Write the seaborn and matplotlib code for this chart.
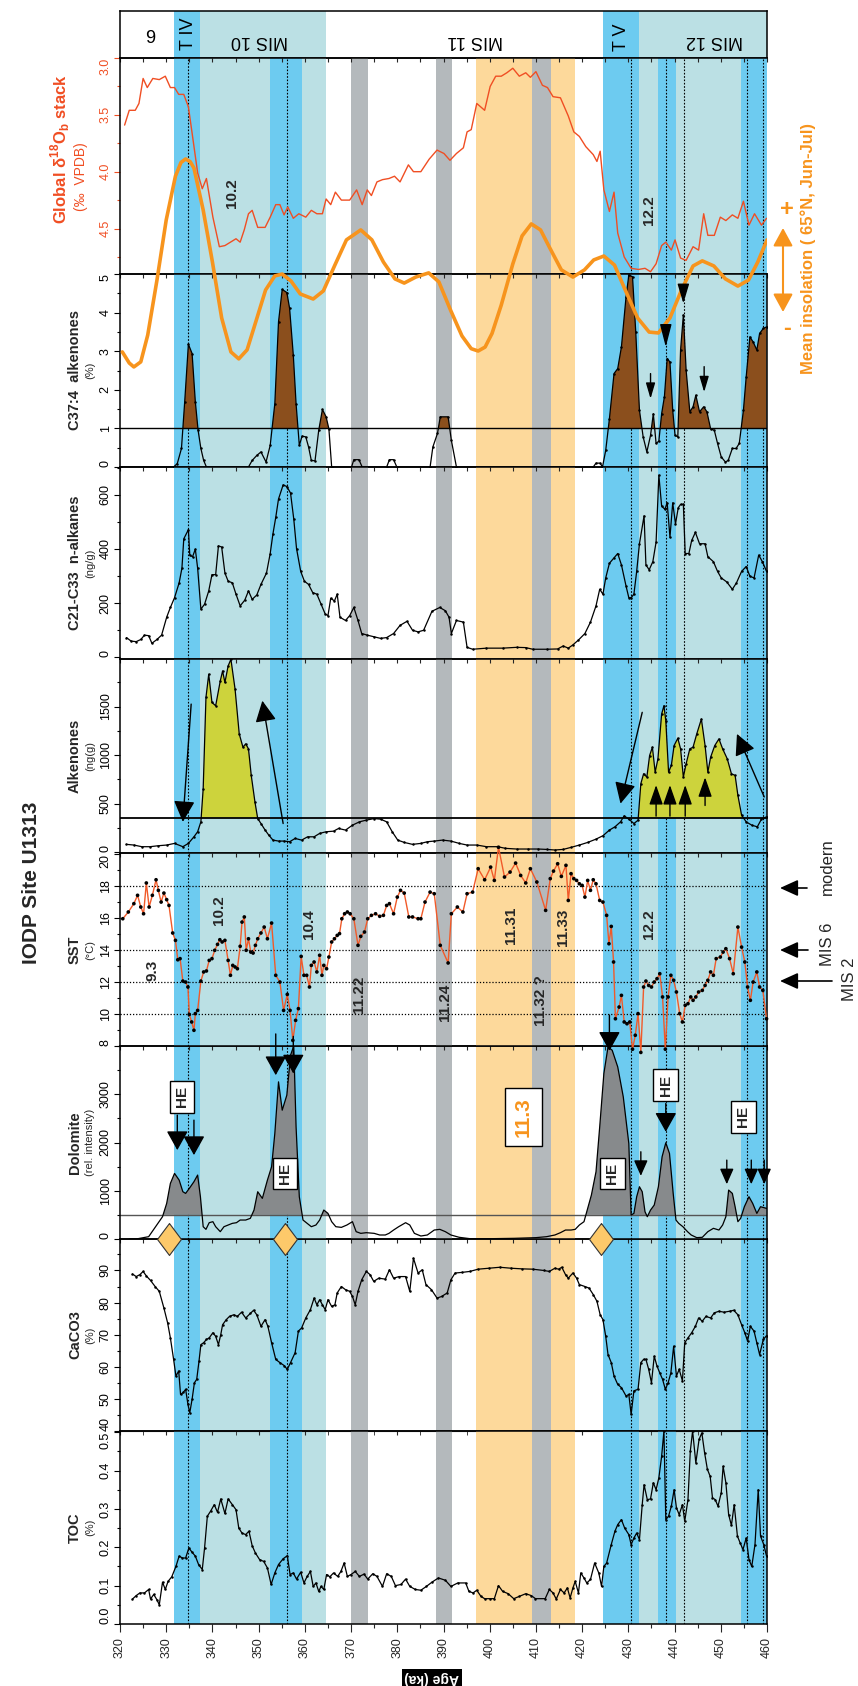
import numpy as np
import pandas as pd
import matplotlib
matplotlib.use("Agg")
import matplotlib.pyplot as plt
import seaborn as sns
from matplotlib.ticker import MultipleLocator, FormatStrFormatter

sns.set_style("white")
plt.rcParams['font.family'] = ['Liberation Sans', 'DejaVu Sans']
plt.rcParams['mathtext.fontset'] = 'custom'
plt.rcParams['mathtext.rm'] = 'Liberation Sans'
plt.rcParams['mathtext.bf'] = 'Liberation Sans:bold'

# ---------------- data (age in ka) ----------------
light_blue = [(337.4, 364.5), (432.4, 461)]
dark_blue = [(331.6, 337.4), (352.4, 359.3), (424.5, 432.4), (436.5, 440.3), (454.3, 461)]
orange_band = [(397.1, 418.5)]
grey_bands = [(370.0, 373.6), (388.3, 391.8), (409.1, 413.2)]
strip_light = [(333.0, 364.5), (432.4, 461)]
strip_dark = [(331.6, 337.4), (424.5, 432.4)]
dotted_ages = [334.8, 356.2, 430.6, 438.1, 442.1, 455.6, 459.2]

d18o = [(321, 3.59), (322, 3.46), (323.3, 3.46), (324.1, 3.40), (325, 3.18), (325.9, 3.26), (327.1, 3.18),
        (328.5, 3.19), (329.8, 3.16), (330.9, 3.26), (331.8, 3.26), (332.7, 3.32), (333.8, 3.32), (334.8, 3.43),
        (335.6, 3.66), (336.8, 4.01), (337.8, 4.15), (338.7, 4.06), (340.1, 4.40), (341.5, 4.66), (342.7, 4.65),
        (343.9, 4.62), (345.1, 4.59), (346, 4.62), (346.9, 4.51), (347.8, 4.37), (348.6, 4.34), (349.8, 4.49),
        (351.4, 4.49), (352.5, 4.40), (353.7, 4.29), (354.6, 4.29), (355.5, 4.38), (356.3, 4.31), (357.5, 4.41),
        (358.7, 4.37), (360.2, 4.40), (361.4, 4.34), (362.6, 4.37), (363.8, 4.37), (364.6, 4.24), (365.6, 4.29),
        (366.6, 4.18), (367.9, 4.25), (369.7, 4.25), (371.2, 4.16), (372.4, 4.29), (373.5, 4.16), (374.4, 4.21),
        (375.6, 4.09), (376.8, 4.07), (378.2, 4.06), (379.4, 4.04), (380.6, 4.09), (382.4, 3.94), (383.5, 4.00),
        (385.1, 4.00), (386.9, 3.89), (388.6, 3.81), (390.1, 3.84), (391.4, 3.90), (392.8, 3.84), (394.3, 3.79),
        (395.1, 3.65), (396, 3.63), (397.2, 3.40), (398.9, 3.46), (400.1, 3.25), (401.3, 3.16), (402.5, 3.16),
        (403.7, 3.13), (405, 3.09), (406.4, 3.16), (407.8, 3.13), (408.8, 3.17), (410, 3.12), (411.4, 3.24),
        (412.5, 3.26), (413.7, 3.34), (415.3, 3.35), (417, 3.51), (418.2, 3.65), (419.4, 3.69), (420.8, 3.78),
        (422.4, 3.85), (423.2, 3.91), (423.9, 3.82), (424.7, 4.16), (425.9, 4.35), (426.9, 4.18), (427.7, 4.54),
        (429.1, 4.75), (430.6, 4.85), (432.2, 4.86), (433.6, 4.85), (434.8, 4.88), (436, 4.81), (437.2, 4.65),
        (438.1, 4.62), (439.3, 4.69), (440.1, 4.60), (441.3, 4.76), (442.5, 4.78), (444, 4.66), (445.2, 4.69),
        (446.3, 4.37), (447.2, 4.56), (448.6, 4.56), (449.9, 4.40), (451.1, 4.43), (452.5, 4.38), (453.7, 4.41),
        (454.9, 4.26), (456.1, 4.47), (457.3, 4.37), (458.8, 4.47), (459.9, 4.41)]

insolation = [(320.5, 441.5), (322, 436.7), (323, 435.0), (324.5, 437.2), (326, 448.8), (328, 472.6), (330, 498.6),
              (332, 517.6), (333.2, 523.5), (334.2, 525.0), (335.2, 523.8), (336, 521.1), (338, 502.9),
              (340, 480.4), (342, 456.2), (344, 441.5), (345.7, 438.5), (347.5, 442.4), (349.5, 455.3),
              (351.5, 468.3), (353.5, 474.4), (355.1, 475.2), (357, 472.2), (359, 466.6), (361.8, 464.4),
              (364, 467.9), (366.5, 479.1), (369, 490.0), (372.1, 494.3), (374.5, 490.0), (377, 480.4),
              (379.5, 473.1), (381.5, 471.3), (384, 473.9), (386.8, 475.7), (389, 471.8), (391.5, 459.7),
              (394, 448.4), (396, 442.9), (397.5, 441.9), (399, 443.6), (400.5, 449.5), (402.5, 461.8),
              (405, 479.6), (407, 491.7), (409, 496.9), (411, 494.3), (413, 486.5), (415.5, 477.0), (418, 473.9),
              (420.5, 477.0), (422.5, 481.3), (424.7, 483.0), (427, 479.1), (429.5, 467.5), (432, 456.2),
              (434.5, 450.1), (436.5, 449.7), (439, 456.2), (441.5, 468.3), (444, 478.7), (446, 480.9),
              (448.5, 478.7), (451, 473.1), (453.7, 470.0), (456, 472.6), (458, 480.4), (460, 490.0)]

c37 = [(320.2, 0), (331.6, 0), (332.4, 0.09), (333.3, 0.48), (334.0, 1.69), (334.8, 3.18), (335.6, 2.94),
       (336.3, 1.69), (336.9, 0.95), (337.5, 0.48), (338.1, 0.17), (338.7, 0), (347.8, 0), (348.6, 0.17),
       (349.6, 0.30), (350.5, 0.39), (351.6, 0.13), (352.5, 0.56), (353.5, 1.64), (354.3, 3.76), (355.1, 4.60),
       (356.1, 4.52), (356.7, 4.11), (357.5, 2.90), (358.1, 1.64), (358.8, 0.56), (359.4, 0.80), (360.2, 0.78),
       (360.8, 0.52), (361.4, 0.17), (362.2, 0.16), (363.0, 0.95), (363.8, 1.49), (364.6, 1.30), (365.2, 0.99),
       (365.8, 0), (370.1, 0), (370.6, 0.19), (371.7, 0.19), (372.4, 0), (377.7, 0), (378.3, 0.19), (379.2, 0.19),
       (379.9, 0), (387.1, 0), (387.7, 0.52), (388.7, 0.87), (389.3, 1.30), (391.0, 1.30), (391.7, 0.69),
       (392.8, 0), (422.4, 0), (423.0, 0.10), (423.9, 0.10), (424.4, 0), (425.1, 0.43), (425.9, 1.25),
       (426.9, 2.42), (427.7, 2.55), (428.5, 3.11), (429.5, 4.41), (430.1, 4.97), (430.9, 4.93), (431.6, 3.50),
       (432.4, 1.47), (433.2, 0.78), (434.0, 0.39), (434.8, 0.82), (435.4, 1.38), (436.0, 0.61), (436.6, 0.67),
       (437.2, 1.38), (437.8, 1.82), (438.4, 2.81), (439.0, 2.72), (439.6, 1.47), (440.1, 0.82), (440.7, 0.78),
       (441.3, 3.03), (441.9, 3.94), (442.5, 2.51), (443.3, 1.43), (444.0, 1.56), (444.6, 1.86), (445.4, 1.43),
       (446.3, 1.56), (447.0, 1.43), (447.8, 0.99), (448.6, 0.95), (449.3, 0.61), (450.1, 0.26), (451.0, 0.13),
       (451.6, 0.17), (452.5, 0.48), (453.3, 0.48), (454.0, 0.61), (454.9, 1.47), (455.5, 2.34), (456.3, 3.37),
       (457.0, 3.24), (457.8, 3.03), (458.4, 3.46), (459.2, 3.59), (459.9, 3.63)]

nalk = [(321.4, 73), (322.4, 60), (323.5, 58), (324.5, 66), (325.3, 82), (326.2, 80), (326.9, 52), (328, 66),
        (329, 82), (330.1, 148), (330.9, 184), (331.8, 220), (332.8, 275), (333.4, 329), (333.8, 437), (334.8, 471),
        (335.1, 377), (335.7, 371), (336.3, 399), (336.8, 329), (337.5, 178), (338.3, 196), (339.2, 245),
        (339.9, 305), (340.7, 305), (341.3, 411), (342, 407), (342.7, 311), (343.4, 281), (344.3, 275),
        (345.1, 233), (346, 190), (347, 211), (347.8, 245), (348.6, 214), (349.6, 230), (350.5, 269), (351.7, 311),
        (352.5, 383), (353.1, 456), (353.7, 516), (354.3, 584), (355.3, 636), (356.1, 630), (356.9, 606),
        (357.6, 510), (358.2, 401), (359.1, 317), (359.9, 281), (360.8, 269), (361.7, 239), (362.6, 233),
        (363.5, 196), (364.4, 160), (365, 154), (365.6, 218), (366.4, 208), (367, 233), (367.6, 148), (368.8, 136),
        (369.7, 154), (370.6, 184), (371.5, 136), (372.3, 88), (373.5, 82), (375, 76), (376.4, 70), (377.7, 73),
        (379.2, 88), (380.6, 118), (382.1, 133), (383.3, 100), (384.5, 94), (385.7, 100), (387.5, 170),
        (389.2, 184), (390.4, 172), (391.2, 148), (391.7, 88), (392.8, 136), (394.3, 130), (395.1, 37),
        (396.3, 30), (399.3, 34), (402.8, 34), (405.8, 37), (407.8, 36), (409.3, 30), (412.3, 30), (414.7, 31),
        (415.9, 42), (417, 34), (418, 46), (419.2, 64), (420.6, 88), (421.8, 130), (423, 190), (423.8, 251),
        (424.5, 233), (425.1, 293), (425.9, 347), (426.8, 365), (427.7, 383), (428.5, 341), (429.5, 263),
        (430.1, 220), (430.6, 220), (431.2, 233), (431.8, 317), (432.4, 419), (433.4, 522), (433.8, 341),
        (434.5, 323), (435.3, 353), (436, 425), (436.6, 672), (437.2, 558), (437.9, 546), (438.4, 570),
        (439, 443), (439.6, 570), (440.2, 492), (440.8, 552), (441.3, 564), (441.9, 564), (442.3, 383),
        (443.1, 383), (443.7, 431), (444.5, 461), (445.4, 419), (446.6, 419), (447.2, 371), (448.4, 353),
        (449.3, 317), (450.1, 293), (451.3, 278), (452.5, 251), (453.4, 275), (454.5, 317), (455.5, 335),
        (456.3, 299), (457.2, 293), (458.2, 377), (459, 353), (459.9, 317)]

alken = [(321.4, 79), (323, 72), (324.7, 55), (326.5, 55), (328.3, 65), (330.1, 72), (331.8, 89), (333.6, 55),
         (334.8, 89), (336, 157), (336.8, 209), (337.5, 311), (338, 653), (338.6, 1594), (339.2, 1833),
         (339.9, 1542), (340.7, 1508), (341.7, 1765), (342.2, 1867), (342.7, 1748), (343.4, 1919), (344, 1987),
         (344.9, 1679), (345.8, 1218), (346.6, 1081), (347.2, 1115), (347.8, 1064), (348.4, 790), (349.2, 516),
         (349.8, 345), (350.5, 294), (351.4, 226), (352.2, 174), (353.1, 123), (354.3, 113), (355.5, 113),
         (356.7, 106), (357.9, 140), (359.3, 123), (360.6, 157), (362, 157), (363.2, 192), (364.6, 209),
         (366.2, 215), (367.3, 243), (368.8, 226), (370.3, 277), (371.8, 311), (373.2, 328), (375, 345),
         (376.4, 339), (377.7, 311), (378.9, 209), (380.1, 123), (381.5, 99), (383.3, 79), (385.1, 89),
         (386.5, 106), (388, 113), (389.8, 123), (391.6, 113), (393.4, 89), (395.1, 72), (397.2, 72), (399.3, 55),
         (401.7, 55), (403.4, 38), (405.8, 31), (408.2, 31), (410.5, 31), (412.3, 27), (414.1, 21), (415.9, 27),
         (417.6, 48), (419.4, 72), (421.2, 99), (423, 133), (424.5, 168), (425.9, 226), (427.1, 260),
         (428.3, 311), (429.1, 373), (430.1, 339), (431.2, 294), (432.1, 328), (432.7, 705), (433.3, 807),
         (434, 773), (434.6, 995), (435.2, 1081), (435.8, 824), (436.4, 961), (437.2, 1423), (437.7, 1508),
         (438.1, 1354), (438.7, 824), (439.3, 893), (439.9, 1098), (440.7, 1173), (441.3, 1064), (441.9, 773),
         (442.5, 910), (443.3, 1064), (444, 1081), (444.8, 1218), (445.8, 1371), (446.6, 1098), (447.2, 824),
         (447.8, 978), (448.7, 1098), (449.6, 1166), (450.4, 1064), (451.4, 961), (452.3, 807), (453.1, 790),
         (453.7, 585), (454.5, 380), (455.5, 311), (456.7, 277), (457.9, 260), (458.8, 339), (459.9, 363)]

sst = [(320.6, 15.94), (321.8, 16.36), (323, 16.88), (323.8, 17.40), (324.5, 16.67), (325.1, 16.25), (325.7, 18.17),
       (326.3, 16.67), (327, 17.40), (327.8, 18.37), (328.3, 17.71), (328.9, 16.98), (329.5, 17.54), (330.1, 17.13),
       (330.6, 16.77), (331.4, 15.05), (332, 14.59), (332.5, 13.38), (333, 13.45), (333.6, 12.05), (334.2, 11.99),
       (334.7, 11.68), (335, 9.97), (335.5, 9.50), (336, 8.98), (336.3, 10.02), (336.8, 10.22), (337.5, 12.05),
       (338.1, 12.62), (338.7, 12.68), (339.3, 13.34), (339.9, 13.45), (340.5, 13.97), (341.1, 14.34),
       (341.6, 14.63), (342.1, 14.49), (342.7, 14.59), (343.4, 13.34), (343.9, 12.41), (344.4, 13.03),
       (344.9, 12.93), (345.4, 12.82), (346, 14.22), (346.4, 15.73), (346.9, 16.05), (347.3, 13.97),
       (347.8, 14.69), (348.3, 13.86), (348.8, 13.80), (349.3, 14.28), (349.8, 14.69), (350.5, 15.05),
       (351.2, 15.42), (351.9, 14.69), (352.8, 15.67), (353.7, 12.41), (354.6, 11.99), (355.4, 10.22),
       (356.2, 11.22), (356.8, 10.22), (357.4, 8.35), (358, 9.60), (358.6, 10.33), (359.2, 13.59), (359.8, 12.41),
       (360.4, 12.41), (361, 11.68), (361.4, 13.03), (362, 13.24), (362.6, 12.62), (363.2, 13.66), (363.7, 12.41),
       (364.1, 13.03), (364.7, 12.82), (365.2, 13.55), (365.8, 14.49), (366.4, 14.69), (367, 14.90),
       (367.5, 15.01), (368, 15.94), (368.6, 16.25), (369.2, 16.36), (369.8, 16.25), (370.6, 15.94),
       (371.5, 14.28), (372.1, 14.84), (372.9, 15.11), (373.6, 15.94), (374.4, 16.15), (375.3, 16.25),
       (376.2, 16.09), (377, 16.15), (377.7, 16.77), (378.3, 16.88), (379.2, 16.25), (380, 17.29), (380.7, 17.71),
       (381.5, 17.54), (382.5, 16.05), (383.3, 16.05), (384.5, 15.94), (385.1, 15.94), (386, 16.98),
       (387.1, 17.60), (388, 17.50), (389.3, 14.28), (391, 13.18), (391.7, 16.25), (393, 16.67), (394.2, 16.36),
       (395.1, 17.50), (396.3, 17.60), (397.5, 19.06), (398.9, 18.37), (400.2, 19.16), (401, 18.33),
       (401.9, 20.40), (403.2, 18.54), (404.4, 18.85), (405.6, 19.41), (406.7, 18.64), (407.8, 18.17),
       (408.8, 19.06), (410.2, 18.23), (412.1, 16.46), (413.1, 18.44), (413.8, 18.91), (414.7, 19.37),
       (415.5, 18.58), (416.5, 19.27), (417, 17.08), (417.6, 18.75), (418.2, 18.44), (418.8, 18.33),
       (419.4, 18.12), (420, 18.02), (420.6, 17.29), (421.2, 18.33), (421.8, 17.71), (422.4, 18.37),
       (423, 18.12), (423.8, 17.08), (424.5, 16.98), (425.3, 16.15), (425.8, 14.38), (426.3, 15.46),
       (426.8, 13.24), (427.2, 9.70), (428, 10.43), (428.5, 11.16), (429.1, 9.50), (429.7, 9.39), (430.3, 9.50),
       (430.9, 7.80), (431.5, 8.67), (432.1, 10.02), (432.7, 7.60), (433.3, 11.68), (433.8, 12.05),
       (434.4, 11.78), (435, 11.68), (435.6, 11.99), (436.2, 12.20), (436.8, 12.51), (437.4, 11.06), (438, 7.80),
       (438.6, 11.06), (439.2, 12.41), (439.8, 12.10), (440.4, 11.37), (441.1, 10.02), (441.7, 9.50),
       (442.3, 10.54), (442.9, 10.64), (443.5, 11.06), (444, 10.85), (444.6, 11.06), (445.2, 11.37),
       (446, 11.47), (446.6, 11.78), (447.2, 12.10), (447.8, 12.62), (448.4, 12.41), (449, 13.45), (449.9, 13.55),
       (450.5, 13.86), (451.1, 14.07), (451.9, 13.45), (452.7, 12.51), (453.7, 15.42), (454.5, 14.17),
       (455.2, 13.24), (455.8, 11.68), (456.4, 10.85), (457, 11.99), (457.8, 12.62), (458.4, 11.68),
       (459.1, 11.47), (459.9, 9.70)]

dolo = [(322, 0), (323.5, 0), (326.2, 48), (327.7, 255), (329.2, 462), (330.1, 738), (330.9, 1152), (331.8, 1359),
        (332.8, 1221), (333.6, 980), (334.2, 945), (335, 1049), (336, 1187), (336.8, 1325), (337.4, 876),
        (338, 255), (338.6, 200), (339.3, 338), (340.1, 359), (340.7, 255), (341.7, 152), (342.5, 255),
        (343.4, 290), (344.3, 324), (345.2, 338), (346, 393), (347.2, 393), (348.2, 428), (349, 600), (349.8, 980),
        (350.8, 842), (351.9, 1221), (352.8, 1497), (353.5, 2187), (354.3, 3257), (355.1, 2670), (356.1, 2981),
        (356.9, 3809), (357.6, 4000), (358.1, 2325), (358.8, 876), (359.6, 393), (360.5, 324), (361.4, 255),
        (362.4, 290), (363.2, 393), (364.1, 600), (365, 531), (365.8, 359), (366.7, 255), (367.9, 241),
        (369.1, 290), (370.3, 359), (371.1, 152), (372.1, 117), (373.3, 131), (375, 117), (376.2, 83), (377.4, 83),
        (378.2, 117), (379.2, 186), (380.3, 255), (381.8, 338), (382.7, 290), (383.7, 117), (385.1, 62),
        (386.5, 83), (388, 186), (389.2, 200), (390.4, 152), (391.6, 83), (393.4, 35), (395.7, 7), (400.5, 7),
        (405.3, 14), (410, 28), (412.3, 48), (414.1, 83), (415.3, 131), (416.4, 186), (417.6, 186), (418.5, 200),
        (419.4, 290), (420.4, 359), (421.2, 635), (422, 911), (423, 1394), (423.8, 2325), (424.7, 3429),
        (425.6, 3981), (426.5, 3912), (427.7, 3567), (428.9, 2946), (430.1, 1980), (430.6, 497), (431.2, 531),
        (431.8, 876), (432.4, 1083), (433, 980), (433.6, 566), (434.1, 462), (434.8, 600), (435.6, 704),
        (436.5, 1083), (437.3, 1704), (438.1, 1994), (438.9, 1773), (439.7, 945), (440.3, 393), (440.9, 324),
        (441.8, 255), (442.8, 152), (443.6, 83), (444.8, 28), (446, 35), (447.2, 152), (448.4, 221), (449.6, 186),
        (450.4, 290), (451.1, 462), (451.7, 1014), (452.5, 945), (453.1, 669), (453.7, 359), (454.3, 428),
        (455.1, 669), (456.1, 876), (456.9, 738), (457.8, 531), (458.6, 669), (459.9, 635)]

caco3 = [(322.7, 88.9), (323.5, 88.1), (324.3, 88.7), (325, 89.7), (325.7, 88.3), (326.6, 86.9), (327.6, 85.0),
         (328.5, 83.5), (329.5, 78.3), (330.3, 73.7), (330.9, 69.0), (331.6, 62.3), (332.1, 57.1), (332.7, 58.7),
         (333.1, 51.4), (333.7, 52.0), (334.2, 53.0), (334.7, 48.3), (335.1, 45.7), (335.6, 49.9), (336.1, 55.0),
         (336.6, 56.1), (337.1, 61.8), (337.5, 66.9), (338.1, 67.5), (338.7, 68.5), (339.3, 69.0), (340.1, 70.6),
         (340.7, 69.5), (341.3, 66.9), (341.8, 70.0), (342.2, 73.1), (343, 74.7), (343.7, 75.7), (344.6, 76.2),
         (345.4, 75.7), (346.3, 77.0), (347.2, 75.2), (348.2, 76.6), (348.9, 77.6), (349.6, 76.2), (350.5, 72.6),
         (351.4, 74.7), (352, 72.6), (352.8, 67.5), (353.7, 62.3), (354.6, 61.3), (355.5, 60.4), (356.2, 59.2),
         (356.9, 61.3), (357.9, 64.4), (358.6, 71.1), (359.3, 72.1), (360.2, 75.2), (361.2, 77.8), (362, 81.4),
         (362.6, 79.3), (363.2, 80.9), (363.8, 79.3), (364.4, 77.8), (365, 80.9), (365.8, 78.8), (366.5, 79.3),
         (367, 83.0), (367.9, 85.0), (368.8, 84.0), (369.7, 83.5), (370.3, 81.9), (370.9, 79.3), (371.5, 83.5),
         (372.3, 87.1), (373.3, 89.7), (374.1, 88.7), (374.9, 86.6), (376, 87.6), (377.4, 87.3), (378.3, 90.2),
         (379.2, 87.6), (380.4, 88.1), (381.8, 88.1), (382.7, 83.5), (383.5, 93.8), (384.5, 89.2), (385.4, 90.2),
         (386.2, 85.6), (387.4, 84.0), (388.6, 81.4), (389.6, 81.9), (390.8, 83.0), (391.6, 87.1), (392.5, 89.2),
         (394, 89.4), (395.7, 89.7), (397.5, 90.4), (399.9, 90.7), (402.2, 91.0), (404.6, 90.7), (407, 90.5),
         (409.3, 90.4), (411.7, 90.0), (412.9, 89.7), (414.1, 90.7), (414.9, 90.4), (415.6, 91.0), (416.4, 88.7),
         (417, 87.6), (418, 89.2), (418.8, 87.6), (419.4, 85.6), (420.6, 85.0), (421.5, 84.5), (422.4, 82.5),
         (423.2, 80.4), (423.9, 76.2), (424.5, 74.7), (425.1, 69.5), (425.6, 63.8), (426.3, 61.3), (426.9, 57.1),
         (427.7, 54.5), (428.5, 53.5), (429.5, 50.9), (430.1, 51.4), (430.6, 45.2), (431.2, 52.5), (432.1, 53.0),
         (432.7, 61.3), (433.3, 62.3), (433.8, 62.3), (434.4, 59.2), (435, 55.0), (435.6, 63.3), (436.2, 60.2),
         (436.8, 58.1), (437.4, 56.1), (438, 53.0), (438.6, 55.0), (439.2, 58.1), (439.8, 66.4), (440.4, 57.1),
         (441, 59.2), (441.7, 55.6), (442.2, 67.5), (442.9, 69.0), (443.7, 70.6), (444.5, 72.6), (445.2, 75.2),
         (446, 74.2), (446.8, 75.7), (447.8, 75.2), (448.6, 76.8), (449.6, 77.3), (450.7, 77.0), (451.9, 77.3),
         (452.8, 77.6), (453.7, 76.2), (454.5, 73.1), (455.2, 70.6), (455.8, 68.0), (456.4, 72.6), (457.2, 71.1),
         (457.8, 67.5), (458.4, 63.8), (459.2, 68.5), (459.9, 69.7)]

toc = [(322.7, 0.065), (323.5, 0.074), (324.3, 0.081), (325.3, 0.081), (326.2, 0.090), (326.6, 0.065),
       (327.3, 0.077), (328, 0.063), (328.5, 0.050), (329.2, 0.109), (329.8, 0.090), (330.4, 0.111),
       (331.2, 0.123), (332.1, 0.150), (332.8, 0.177), (333.5, 0.172), (334.2, 0.172), (334.9, 0.198),
       (335.6, 0.187), (336.3, 0.177), (337, 0.155), (337.8, 0.142), (338.3, 0.198), (338.9, 0.281),
       (339.6, 0.294), (340.4, 0.311), (341.1, 0.291), (341.8, 0.326), (342.7, 0.288), (343.4, 0.326),
       (344.3, 0.311), (345.1, 0.298), (345.7, 0.250), (346.4, 0.237), (347.2, 0.233), (347.9, 0.242),
       (348.6, 0.204), (349.3, 0.185), (350.2, 0.168), (351.1, 0.163), (351.9, 0.146), (352.7, 0.103),
       (353.5, 0.133), (354.3, 0.155), (355.3, 0.170), (356.2, 0.178), (356.8, 0.129), (357.5, 0.133),
       (358.2, 0.117), (359.1, 0.135), (359.8, 0.107), (360.5, 0.124), (361.2, 0.137), (361.8, 0.098),
       (362.4, 0.107), (363, 0.085), (363.5, 0.098), (364.1, 0.090), (364.7, 0.129), (365.4, 0.123),
       (366.2, 0.133), (367.1, 0.124), (367.8, 0.137), (368.5, 0.159), (369.2, 0.124), (370, 0.129),
       (370.9, 0.137), (371.8, 0.124), (372.8, 0.130), (373.6, 0.117), (374.7, 0.131), (375.6, 0.124),
       (376.8, 0.098), (377.7, 0.131), (378.7, 0.124), (379.6, 0.100), (380.8, 0.103), (381.8, 0.117),
       (382.7, 0.098), (383.9, 0.090), (385.1, 0.088), (386.3, 0.098), (387.5, 0.109), (388.9, 0.120),
       (390.4, 0.114), (391.6, 0.098), (393.1, 0.107), (394.8, 0.107), (395.5, 0.085), (396.4, 0.081),
       (397.2, 0.088), (398.1, 0.072), (398.9, 0.066), (400.1, 0.066), (401, 0.066), (401.9, 0.100),
       (402.8, 0.085), (404, 0.079), (405.2, 0.066), (406.4, 0.072), (407.8, 0.079), (409, 0.074),
       (409.9, 0.066), (412, 0.066), (412.9, 0.090), (413.7, 0.081), (414.4, 0.065), (415.3, 0.090),
       (416.1, 0.081), (416.8, 0.094), (417.4, 0.068), (418, 0.094), (418.5, 0.111), (419.2, 0.081),
       (419.7, 0.133), (420.4, 0.120), (421, 0.107), (421.8, 0.116), (422.7, 0.159), (423.6, 0.133),
       (424.2, 0.098), (424.7, 0.150), (425.3, 0.159), (426.3, 0.207), (427.1, 0.242), (427.7, 0.259),
       (428.5, 0.272), (429.2, 0.250), (430.1, 0.233), (430.6, 0.207), (431.2, 0.224), (431.8, 0.237),
       (432.4, 0.220), (433, 0.311), (433.4, 0.363), (434.1, 0.324), (434.8, 0.326), (435.4, 0.368),
       (436, 0.350), (436.6, 0.381), (437.2, 0.437), (437.7, 0.503), (438.1, 0.272), (438.7, 0.281),
       (439.3, 0.307), (439.9, 0.350), (440.4, 0.303), (441, 0.285), (441.7, 0.311), (442.2, 0.268),
       (442.9, 0.324), (443.4, 0.450), (443.9, 0.503), (444.6, 0.420), (445.3, 0.481), (445.9, 0.498),
       (446.5, 0.446), (447.1, 0.403), (447.7, 0.385), (448.2, 0.329), (448.8, 0.324), (449.4, 0.307),
       (450.1, 0.342), (450.5, 0.411), (451.1, 0.368), (451.7, 0.285), (452.3, 0.257), (452.9, 0.311),
       (453.6, 0.229), (454.2, 0.211), (454.8, 0.194), (455.5, 0.224), (456.1, 0.168), (456.7, 0.150),
       (457.4, 0.207), (458.1, 0.350), (458.6, 0.229), (459.3, 0.207), (459.9, 0.177)]

# labels inside panels: (age, y value, text)
sst_labels = [(327.1, 12.7, '9.3'), (341.5, 16.5, '10.2'), (360.8, 15.6, '10.4'), (371.8, 11.2, '11.22'),
              (390.4, 10.7, '11.24'), (404.6, 15.5, '11.31'), (411.1, 10.85, '11.32 ?'), (415.9, 15.4, '11.33'),
              (434.4, 15.6, '12.2')]
d18o_labels = [(344.3, 4.19, '10.2'), (434.4, 4.34, '12.2')]
strip_labels = [(326.5, 0.42, '9', 0), (334.8, 0.52, 'T IV', 90), (350.2, 0.38, 'MIS 10', 180),
                (396.9, 0.38, 'MIS 11', 180), (428.5, 0.45, 'T V', 90), (448.7, 0.38, 'MIS 12', 180)]
he_boxes = [(333.4, 2946), (355.7, 1359), (426.5, 1359), (438.1, 3188), (454.9, 2532)]
diamond_ages = [330.6, 355.7, 424.1]

# ---------------- layout (pixels) ----------------
W, H = 858, 1686
L, R = 120, 767
fig = plt.figure(figsize=(W / 100, H / 100), dpi=100)
fig.patch.set_facecolor('white')

def fx(px):
    return px / W

def fy(py):
    return 1 - py / H

def add_panel(top, bottom, z=1):
    ax = fig.add_axes([L / W, 1 - bottom / H, (R - L) / W, (bottom - top) / H])
    ax.set_xlim(320, 460)
    ax.patch.set_visible(False)
    ax.set_zorder(z)
    for s in ax.spines.values():
        s.set_linewidth(1.1)
        s.set_color('k')
    return ax

C_DARK = '#6dcbf0'
C_LIGHT = '#bbe0e4'
C_GREY = '#b4b9bc'
C_ORANGE = '#fdd99b'
C_RED = '#f04e23'
C_INSOL = '#f7941d'

def bands(ax):
    for a, b in light_blue:
        ax.axvspan(a, b, color=C_LIGHT, lw=0, zorder=0)
    for a, b in dark_blue:
        ax.axvspan(a, b, color=C_DARK, lw=0, zorder=0.1)
    for a, b in orange_band:
        ax.axvspan(a, b, color=C_ORANGE, lw=0, zorder=0.1)
    for a, b in grey_bands:
        ax.axvspan(a, b, color=C_GREY, lw=0, zorder=0.2)
    for a in dotted_ages:
        ax.axvline(a, color='k', ls=(0, (1.5, 1.5)), lw=0.8, zorder=0.5)

def curve(ax, pts, color='k', lw=0.9, ms=1.8, **kw):
    df = pd.DataFrame(pts, columns=['age', 'val'])
    sns.lineplot(data=df, x='age', y='val', ax=ax, color=color, lw=lw, marker='o', markersize=ms,
                 markeredgewidth=0, estimator=None, sort=False, zorder=3, **kw)
    ax.set_xlabel('')
    ax.set_ylabel('')
    return df

def style_axes(ax, ticks, minor, ylim, fmt=None, color='k'):
    ax.set_ylim(*ylim)
    ax.set_yticks(ticks)
    ax.yaxis.set_minor_locator(MultipleLocator(minor))
    if fmt:
        ax.yaxis.set_major_formatter(FormatStrFormatter(fmt))
    ax.tick_params(axis='y', which='both', direction='out', left=True, right=False, labelsize=9,
                   labelrotation=90, color=color, labelcolor=color, width=0.8)
    ax.tick_params(axis='y', which='major', length=4, pad=2)
    ax.tick_params(axis='y', which='minor', length=2)
    # labels at the panel edges are pushed inward so neighbours do not collide
    for val, lbl in zip(ticks, ax.get_yticklabels()):
        frac = (val - ylim[0]) / (ylim[1] - ylim[0])
        if frac < 0.04:
            lbl.set_va('bottom')
        elif frac > 0.96:
            lbl.set_va('top')
        else:
            lbl.set_va('center')
    ax.xaxis.set_major_locator(MultipleLocator(10))
    ax.xaxis.set_minor_locator(MultipleLocator(5))
    ax.tick_params(axis='x', which='both', bottom=False, top=True, direction='in', labelbottom=False,
                   length=3, width=0.8)

panel_px = {'strip': (11, 58), 'd18o': (58, 274), 'c37': (274, 467), 'nalk': (467, 659), 'alk': (659, 853),
            'sst': (853, 1046), 'dol': (1046, 1239), 'caco3': (1239, 1431), 'toc': (1431, 1624)}

# top strip
ax_s = add_panel(*panel_px['strip'])
for a, b in strip_light:
    ax_s.axvspan(a, b, color=C_LIGHT, lw=0, zorder=0)
for a, b in strip_dark:
    ax_s.axvspan(a, b, color=C_DARK, lw=0, zorder=0.1)
ax_s.set_ylim(0, 1)
ax_s.set_xticks([])
ax_s.set_yticks([])
for x, y, t, rot in strip_labels:
    ax_s.text(x, y, t, rotation=rot, ha='center', va='center', fontsize=13, color='k')

# d18O
ax_d = add_panel(*panel_px['d18o'])
bands(ax_d)
curve(ax_d, d18o, color=C_RED, lw=1.0, ms=0)
style_axes(ax_d, [3.0, 3.5, 4.0, 4.5], 0.25, (4.90, 3.0), fmt='%.1f', color=C_RED)
ax_d.spines['right'].set_visible(False)
for x, y, t in d18o_labels:
    ax_d.text(x, y, t, rotation=90, ha='center', va='center', fontsize=11, fontweight='bold')

# C37:4
ax_c = add_panel(*panel_px['c37'])
bands(ax_c)
dfc = curve(ax_c, c37)
ax_c.fill_between(dfc['age'], 1, dfc['val'], where=dfc['val'] >= 1, interpolate=True, color='#8b4f1d',
                  lw=0, zorder=2)
ax_c.axhline(1, color='k', lw=1.0, zorder=2.5)
style_axes(ax_c, [0, 1, 2, 3, 4, 5], 0.5, (0, 5.0))

# n-alkanes
ax_n = add_panel(*panel_px['nalk'])
bands(ax_n)
curve(ax_n, nalk)
style_axes(ax_n, [0, 200, 400, 600], 100, (-6, 702))

# alkenones
ax_a = add_panel(*panel_px['alk'])
bands(ax_a)
dfa = curve(ax_a, alken)
age_a = dfa['age'].to_numpy()
val_a = dfa['val'].to_numpy()
mask_a = (((age_a >= 337.8) & (age_a <= 350.3)) | ((age_a >= 432.3) & (age_a <= 454.8))) & (val_a >= 352)
ax_a.fill_between(age_a, 352, val_a, where=mask_a, interpolate=True, color='#cdd33c', lw=0, zorder=2)
ax_a.axhline(352, color='k', lw=1.3, zorder=2.5)
style_axes(ax_a, [0, 500, 1000, 1500], 250, (-10, 1990))

# SST
ax_t = add_panel(*panel_px['sst'], z=3)
bands(ax_t)
for lvl in [10, 12, 14, 18]:
    ax_t.axhline(lvl, color='k', ls=(0, (1, 1.5)), lw=0.9, zorder=1)
dft = curve(ax_t, sst, color='#f15a29', lw=1.0, ms=0, clip_on=False)
sns.scatterplot(data=dft, x='age', y='val', ax=ax_t, color='k', s=7, edgecolor='none', zorder=4, clip_on=False)
ax_t.set_xlabel('')
ax_t.set_ylabel('')
style_axes(ax_t, [8, 10, 12, 14, 16, 18, 20], 1, (8, 20.04))
for x, y, t in sst_labels:
    ax_t.text(x, y, t, rotation=90, ha='center', va='center', fontsize=11, fontweight='bold', zorder=5)

# dolomite
ax_o = add_panel(*panel_px['dol'], z=2)
bands(ax_o)
dfo = curve(ax_o, dolo, ms=0)
ax_o.fill_between(dfo['age'], 500, dfo['val'], where=dfo['val'] >= 500, interpolate=True, color='#878a8c',
                  lw=0, zorder=2)
ax_o.axhline(500, color='#555555', lw=1.0, zorder=2.5)
style_axes(ax_o, [0, 1000, 2000, 3000], 500, (0, 4000))
for x, y in he_boxes:
    ax_o.text(x, y, 'HE', rotation=90, ha='center', va='center', fontsize=11, fontweight='bold', zorder=6,
              bbox=dict(boxstyle='square,pad=0.35', fc='white', ec='k', lw=1))
ax_o.text(407.3, 2525, '11.3', rotation=90, ha='center', va='center', fontsize=15, fontweight='bold',
          color=C_INSOL, zorder=6, bbox=dict(boxstyle='square,pad=0.45', fc='white', ec='k', lw=1))
ax_o.plot(diamond_ages, [0] * len(diamond_ages), ls='none',
          marker=[(0, 1), (0.75, 0), (0, -1), (-0.75, 0), (0, 1)], markersize=23, mfc='#fdc96a', mec='#333333',
          mew=0.8, clip_on=False, zorder=7)

# CaCO3
ax_k = add_panel(*panel_px['caco3'])
bands(ax_k)
curve(ax_k, caco3)
style_axes(ax_k, [40, 50, 60, 70, 80, 90], 5, (40, 99.8))

# TOC
ax_o2 = add_panel(*panel_px['toc'])
bands(ax_o2)
curve(ax_o2, toc)
style_axes(ax_o2, [0.0, 0.1, 0.2, 0.3, 0.4, 0.5], 0.05, (0, 0.503), fmt='%.1f')
ax_o2.tick_params(axis='x', which='both', bottom=True, top=False, direction='out', labelbottom=True,
                  labelsize=9, labelrotation=90)
ax_o2.tick_params(axis='x', which='major', length=6)
ax_o2.tick_params(axis='x', which='minor', length=3)
sec = ax_o2.secondary_xaxis('top')
sec.xaxis.set_major_locator(MultipleLocator(10))
sec.xaxis.set_minor_locator(MultipleLocator(5))
sec.tick_params(axis='x', which='both', direction='in', length=3, labeltop=False)

# insolation overlay over d18O + C37:4 panels
ax_i = fig.add_axes([L / W, 1 - 467 / H, (R - L) / W, (467 - 58) / H])
ax_i.patch.set_visible(False)
ax_i.set_zorder(4)
curve(ax_i, insolation, color=C_INSOL, lw=2.6, ms=0)
ax_i.set_xlim(320, 460)
ax_i.set_ylim(391.7, 568.7)
ax_i.axis('off')

# overlay for arrows
ax_over = fig.add_axes([0, 0, 1, 1])
ax_over.patch.set_visible(False)
ax_over.set_zorder(10)
ax_over.axis('off')

def arrow(target, x0, y0, x1, y1, hl, hw, lw=1.0, color='k'):
    ax_over.annotate('', xy=(x1, y1), xycoords=target.transData, xytext=(x0, y0), textcoords=target.transData,
                     arrowprops=dict(arrowstyle=f'-|>,head_length={hl},head_width={hw}', color=color, lw=lw,
                                     shrinkA=0, shrinkB=0, mutation_scale=10), annotation_clip=False)

# C37:4 arrows
arrow(ax_c, 434.8, 2.42, 434.8, 1.77, 0.95, 0.28)
arrow(ax_c, 438.1, 3.63, 438.1, 3.11, 1.4, 0.36)
arrow(ax_c, 441.9, 4.64, 441.9, 4.24, 1.2, 0.36)
arrow(ax_c, 446.4, 2.60, 446.4, 1.94, 0.95, 0.28)
# alkenones arrows
arrow(ax_a, 335.4, 1525, 333.6, 311, 1.3, 0.65)
arrow(ax_a, 355.3, 294, 350.8, 1560, 1.3, 0.65)
arrow(ax_a, 433.0, 1440, 428.3, 499, 1.3, 0.65)
arrow(ax_a, 459.4, 568, 453.5, 1218, 1.3, 0.65)
for xa in [436.0, 439.0, 442.3]:
    arrow(ax_a, xa, 370, xa, 690, 1.2, 0.42)
arrow(ax_a, 446.6, 480, 446.6, 770, 1.2, 0.42)
# dolomite arrows
arrow(ax_o, 332.4, 2567, 332.4, 1842, 1.2, 0.67)
arrow(ax_o, 336.0, 2463, 336.0, 1739, 1.2, 0.67)
arrow(ax_o, 353.7, 4250, 353.7, 3395, 1.2, 0.67)
arrow(ax_o, 357.5, 4200, 357.5, 3430, 1.2, 0.67)
arrow(ax_o, 425.9, 4640, 425.9, 3900, 1.2, 0.67)
arrow(ax_o, 438.1, 2808, 438.1, 2222, 1.2, 0.67)
for xa in [432.7, 451.3, 456.6, 459.4]:
    y0 = 1808 if xa < 440 else 1635
    arrow(ax_o, xa, y0, xa, y0 - 500, 0.95, 0.42)

# SST reference arrows on the right
for ypx, x0 in [(888, 807), (950, 808), (981, 832)]:
    ax_over.annotate('', xy=(fx(780), fy(ypx)), xycoords='figure fraction', xytext=(fx(x0), fy(ypx)),
                     textcoords='figure fraction',
                     arrowprops=dict(arrowstyle='-|>,head_length=1.1,head_width=0.5', color='k', lw=1.2,
                                     shrinkA=0, shrinkB=0, mutation_scale=10))
fig.text(fx(827), fy(895), 'modern', rotation=90, ha='center', va='bottom', fontsize=12)
fig.text(fx(827), fy(966), 'MIS 6', rotation=90, ha='center', va='bottom', fontsize=12)
fig.text(fx(849), fy(1001), 'MIS 2', rotation=90, ha='center', va='bottom', fontsize=12)

# insolation legend on right
ax_over.annotate('', xy=(fx(783), fy(228)), xycoords='figure fraction', xytext=(fx(783), fy(312)),
                 textcoords='figure fraction',
                 arrowprops=dict(arrowstyle='<|-|>,head_length=1.1,head_width=0.6', color=C_INSOL, lw=1.5,
                                 shrinkA=0, shrinkB=0, mutation_scale=10))
fig.text(fx(787), fy(210), '+', ha='center', va='center', fontsize=17, fontweight='bold', color=C_INSOL)
fig.text(fx(787), fy(328), '-', ha='center', va='center', fontsize=17, fontweight='bold', color=C_INSOL)
fig.text(fx(808), fy(249), 'Mean insolation ( 65°N, Jun-Jul)', rotation=90, ha='center', va='center',
         fontsize=12, fontweight='bold', color=C_INSOL)

# panel labels
fig.text(fx(60), fy(149), r'Global δ$^{\mathbf{18}}$O$_{\mathbf{b}}$ stack', rotation=90, ha='center',
         va='center', fontsize=12, fontweight='bold', color=C_RED)
fig.text(fx(81), fy(177), '(‰  VPDB)', rotation=90, ha='center', va='center', fontsize=10, color=C_RED)
panel_names = [('c37', 'C37:4  alkenones', '(%)'), ('nalk', 'C21-C33  n-alkanes', '(ng/g)'),
               ('alk', 'Alkenones', '(ng(g)'), ('sst', 'SST', '(°C)'), ('dol', 'Dolomite', '(rel. intensity)'),
               ('caco3', 'CaCO3', '(%)'), ('toc', 'TOC', '(%)')]
for key, name, unit in panel_names:
    t, b = panel_px[key]
    yc = (t + b) / 2
    fig.text(fx(75), fy(yc), name, rotation=90, ha='center', va='center', fontsize=10.5, fontweight='bold')
    fig.text(fx(90), fy(yc), unit, rotation=90, ha='center', va='center', fontsize=8)

fig.text(fx(32), fy(883), 'IODP Site U1313', rotation=90, ha='center', va='center', fontsize=15,
         fontweight='bold')
fig.text(fx(432), fy(1678), 'Age (ka)', rotation=180, ha='center', va='center', fontsize=10,
         fontweight='bold', color='white', bbox=dict(boxstyle='square,pad=0.15', fc='black', ec='none'))

fig.savefig('out.png', dpi=100)
